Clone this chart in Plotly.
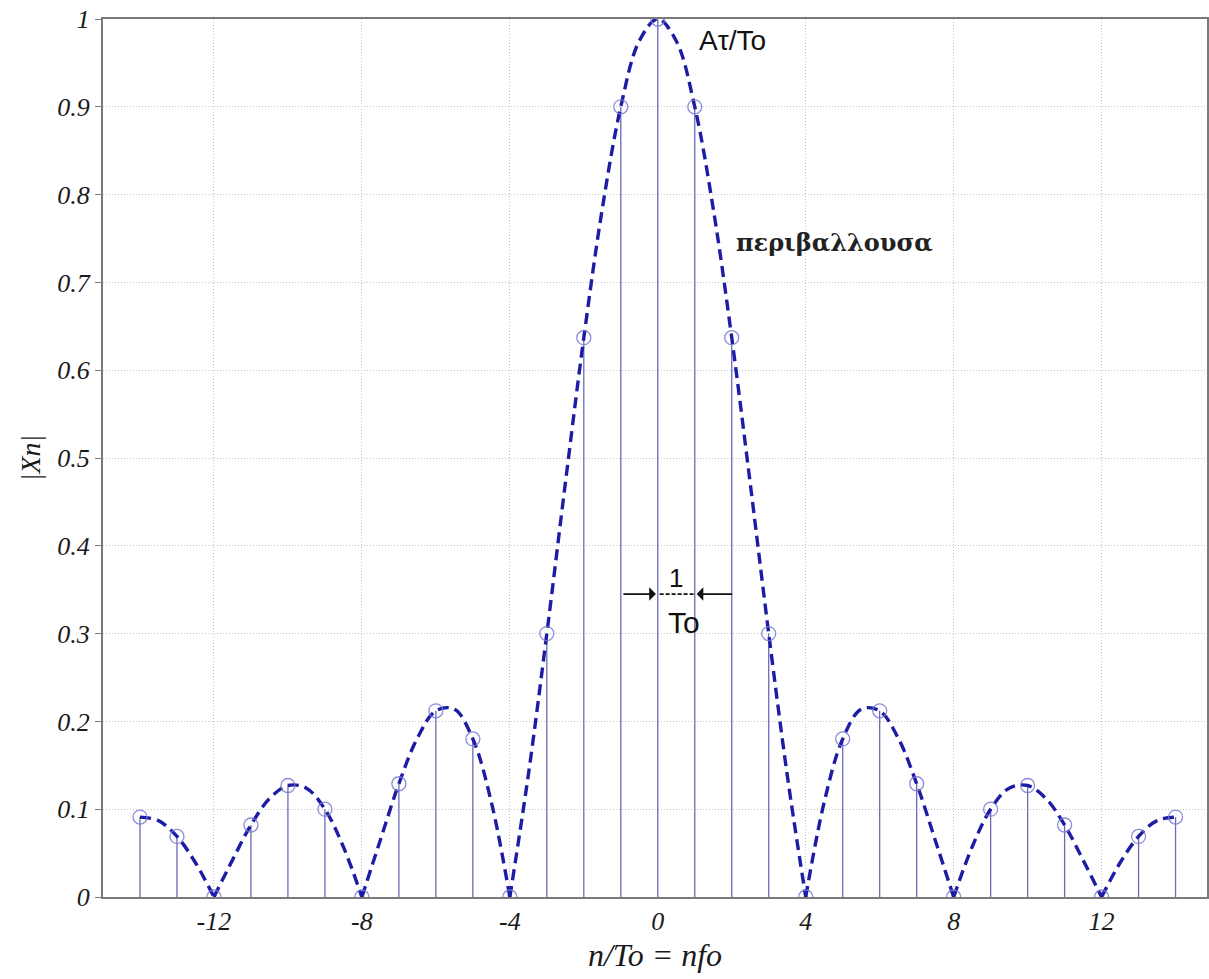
import plotly.graph_objects as go

# stem data
n_vals = list(range(-14, 15))
xn_vals = [0.091, 0.069, 0.0, 0.082, 0.127, 0.100, 0.0, 0.129, 0.212, 0.180, 0.0, 0.300,
           0.637, 0.900, 1.0, 0.900, 0.637, 0.300, 0.0, 0.180, 0.212, 0.129, 0.0, 0.100,
           0.127, 0.082, 0.0, 0.069, 0.091]

# envelope samples (half steps)
env_x = [-14, -13.5, -13, -12.5, -12, -11.5, -11, -10.5, -10, -9.5, -9, -8.5, -8,
         -7.5, -7, -6.5, -6, -5.5, -5, -4.5, -4, -3.5, -3, -2.5, -2, -1.5, -1, -0.5, 0,
         0.5, 1, 1.5, 2, 2.5, 3, 3.5, 4, 4.5, 5, 5.5, 6, 6.5, 7, 7.5, 8, 8.5, 9, 9.5,
         10, 10.5, 11, 11.5, 12, 12.5, 13, 13.5, 14]
env_y = [0.091, 0.087, 0.069, 0.039, 0.0, 0.042, 0.082, 0.112, 0.127, 0.124, 0.100, 0.057, 0.0,
         0.065, 0.129, 0.181, 0.212, 0.214, 0.180, 0.108, 0.0, 0.139, 0.300, 0.471, 0.637, 0.784,
         0.900, 0.975, 1.0,
         0.975, 0.900, 0.784, 0.637, 0.471, 0.300, 0.139, 0.0, 0.108, 0.180, 0.214, 0.212, 0.181,
         0.129, 0.065, 0.0, 0.057, 0.100, 0.124, 0.127, 0.112, 0.082, 0.042, 0.0, 0.039, 0.069,
         0.087, 0.091]

x_ticks = [-12, -8, -4, 0, 4, 8, 12]
y_ticks = [0, 0.1, 0.2, 0.3, 0.4, 0.5, 0.6, 0.7, 0.8, 0.9, 1]
y_tick_text = ["0", "0.1", "0.2", "0.3", "0.4", "0.5", "0.6", "0.7", "0.8", "0.9", "1"]

fig = go.Figure()

# stems
sx, sy = [], []
for xv, yv in zip(n_vals, xn_vals):
    sx += [xv, xv, None]
    sy += [0, yv, None]
fig.add_trace(go.Scatter(x=sx, y=sy, mode="lines",
                         line=dict(color="#6a6ab8", width=1.3), hoverinfo="skip",
                         showlegend=False))

# envelope split into lobes at zeros
lobes = []
cur_x, cur_y = [], []
for xv, yv in zip(env_x, env_y):
    cur_x.append(xv)
    cur_y.append(yv)
    if yv == 0.0 and len(cur_x) > 1:
        lobes.append((cur_x, cur_y))
        cur_x, cur_y = [xv], [yv]
lobes.append((cur_x, cur_y))
for lx, ly in lobes:
    fig.add_trace(go.Scatter(x=lx, y=ly, mode="lines",
                             line=dict(color="#1c1ca4", width=3.4, dash="11px,6px",
                                       shape="spline", smoothing=1.0),
                             showlegend=False, hoverinfo="skip"))

# markers
fig.add_trace(go.Scatter(x=n_vals, y=xn_vals, mode="markers",
                         marker=dict(symbol="circle-open", size=14,
                                     color="rgba(120,120,210,0.85)",
                                     line=dict(width=1.3)),
                         showlegend=False))

serif = "Liberation Serif"

fig.update_layout(
    width=1209, height=979,
    margin=dict(l=103, r=0, t=19, b=82),
    paper_bgcolor="white", plot_bgcolor="white",
    xaxis=dict(range=[-15, 14.85], tickvals=x_ticks, ticktext=[str(v) for v in x_ticks],
               showgrid=True, gridcolor="#c4c4c4", griddash="1px,2px", gridwidth=1,
               zeroline=False, showline=True, linecolor="#7a7a7a", linewidth=2,
               mirror=True, ticks="",
               tickfont=dict(family=serif, size=26, color="#1a1a1a", style="italic"),
               title=dict(text="n/To = nfo", standoff=8,
                          font=dict(family=serif, size=32, color="#1a1a1a", style="italic"))),
    yaxis=dict(range=[0, 1], tickvals=y_ticks, ticktext=y_tick_text,
               showgrid=True, gridcolor="#c4c4c4", griddash="1px,2px", gridwidth=1,
               zeroline=False, showline=True, linecolor="#7a7a7a", linewidth=2,
               mirror=True, ticks="outside", ticklen=6, tickcolor="#7a7a7a",
               tickfont=dict(family=serif, size=26, color="#1a1a1a", style="italic"),
               title=dict(text="|Xn|", standoff=8,
                          font=dict(family=serif, size=28, color="#1a1a1a", style="italic"))),
)

fig.add_annotation(x=1.05, y=0.976, xref="x", yref="y", text="Aτ/To", showarrow=False,
                   xanchor="left", font=dict(family="Liberation Sans", size=28, color="#111"))
fig.add_annotation(x=2.05, y=0.745, xref="x", yref="y", text="περιβαλλουσα", showarrow=False,
                   xanchor="left",
                   font=dict(family="DejaVu Serif", size=24, color="#222", weight="bold"))
fig.add_annotation(x=0.49, y=0.363, xref="x", yref="y", text="1", showarrow=False,
                   font=dict(family="Liberation Sans", size=26, color="#111"))
fig.add_annotation(x=0.7, y=0.313, xref="x", yref="y", text="To", showarrow=False,
                   font=dict(family="Liberation Sans", size=30, color="#111"))
fig.add_shape(type="line", x0=0.05, x1=1.02, y0=0.345, y1=0.345, xref="x", yref="y",
              line=dict(color="#111", width=1.8, dash="4px,2px"))
fig.add_annotation(x=-0.05, y=0.345, ax=-0.97, ay=0.345, xref="x", yref="y", axref="x",
                   ayref="y", text="", showarrow=True, arrowhead=1, arrowsize=1.4,
                   arrowwidth=1.6, arrowcolor="#111")
fig.add_annotation(x=1.05, y=0.345, ax=2.05, ay=0.345, xref="x", yref="y", axref="x",
                   ayref="y", text="", showarrow=True, arrowhead=1, arrowsize=1.4,
                   arrowwidth=1.6, arrowcolor="#111")

fig.write_html("out.html")
